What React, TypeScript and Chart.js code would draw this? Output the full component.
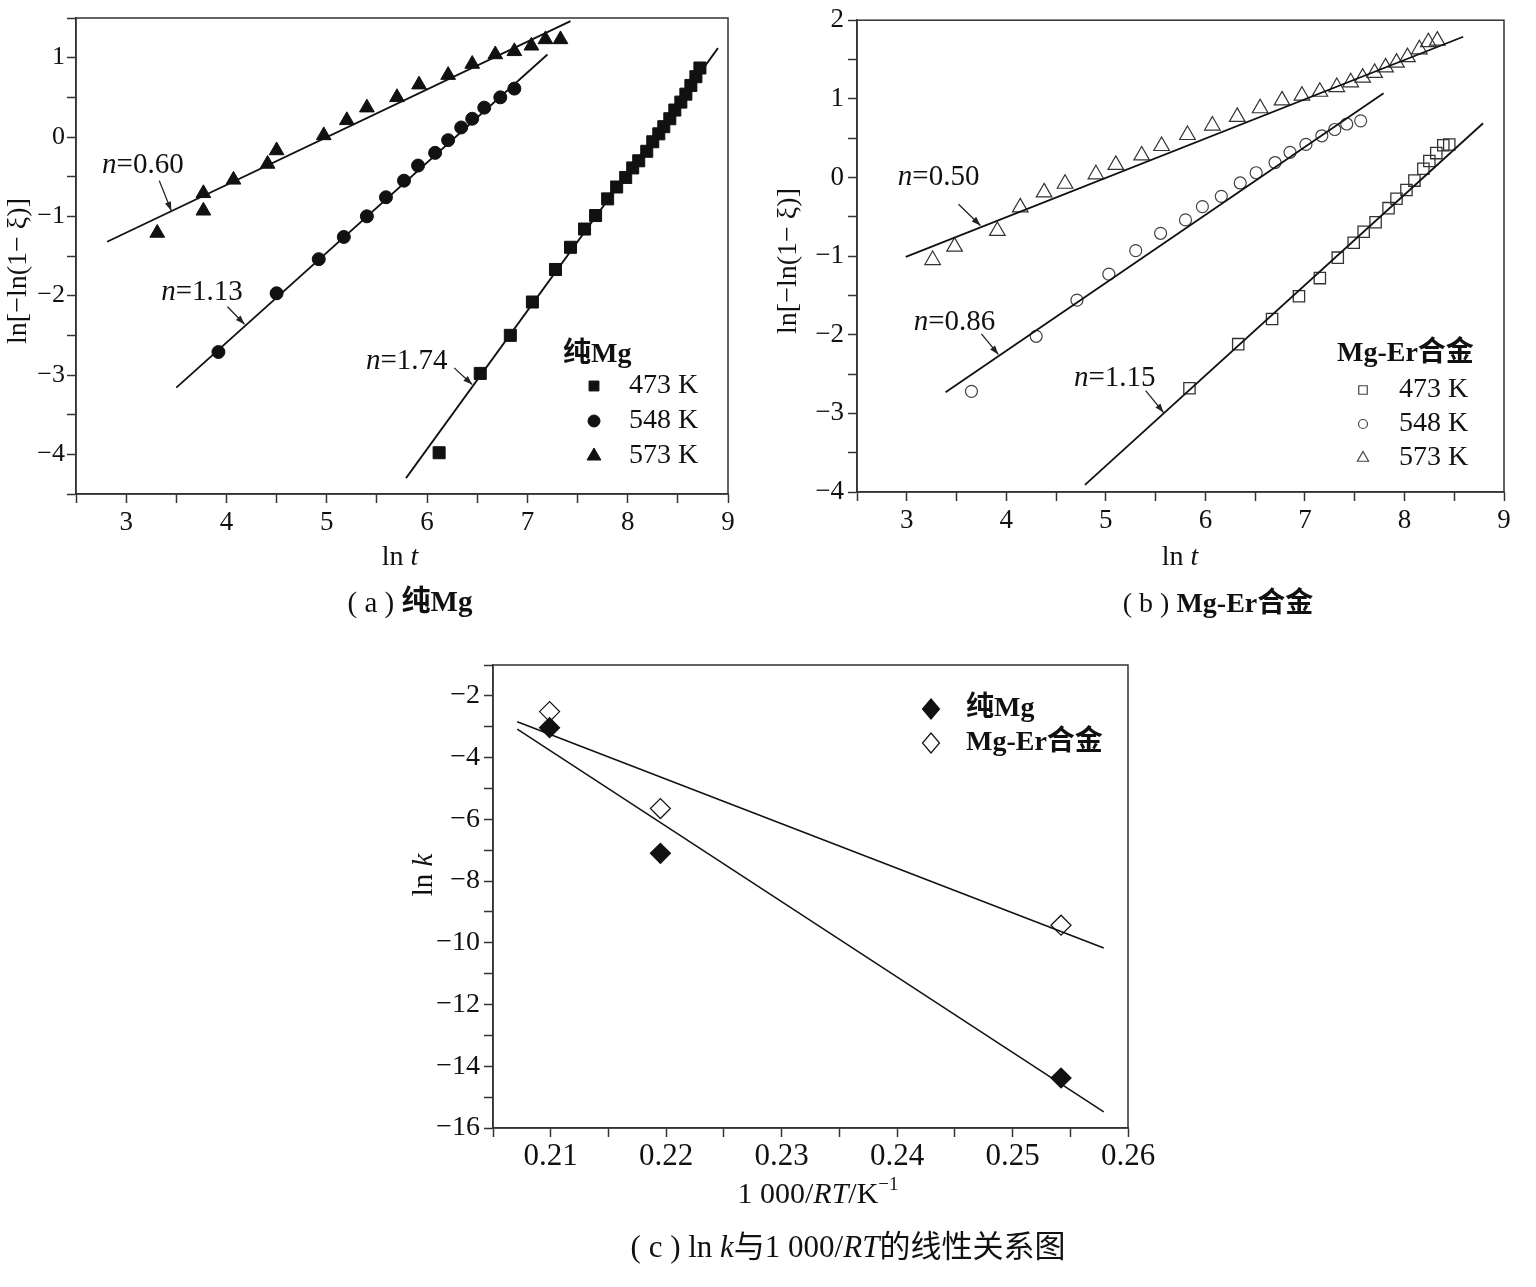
import React, { useEffect, useRef } from 'react';
import { Chart, registerables } from 'chart.js';

Chart.register(...registerables);

const SERIF = '"Liberation Serif", "Times New Roman", "Noto Sans CJK SC", serif';
const INK = '#111';

// ---------- Panel (a): pure Mg ----------
const A_473_X = [6.12, 6.53, 6.83, 7.05, 7.28, 7.43, 7.57, 7.68, 7.8, 7.89, 7.98, 8.05, 8.11, 8.19, 8.25, 8.31, 8.36, 8.42, 8.47, 8.53, 8.58, 8.63, 8.68, 8.72];
const A_473_Y = [-3.98, -2.98, -2.5, -2.08, -1.67, -1.39, -1.16, -0.99, -0.78, -0.63, -0.51, -0.39, -0.3, -0.18, -0.06, 0.04, 0.13, 0.23, 0.34, 0.44, 0.54, 0.65, 0.76, 0.87];
const A_548_X = [3.92, 4.5, 4.92, 5.17, 5.4, 5.59, 5.77, 5.91, 6.08, 6.21, 6.34, 6.45, 6.57, 6.73, 6.87];
const A_548_Y = [-2.71, -1.97, -1.54, -1.26, -1.0, -0.76, -0.55, -0.36, -0.2, -0.04, 0.12, 0.23, 0.37, 0.5, 0.61];
const A_573_X = [3.31, 3.77, 3.77, 4.07, 4.41, 4.5, 4.97, 5.2, 5.4, 5.7, 5.92, 6.21, 6.45, 6.68, 6.87, 7.04, 7.18, 7.33];
const A_573_Y = [-1.21, -0.93, -0.71, -0.54, -0.34, -0.17, 0.02, 0.21, 0.37, 0.5, 0.66, 0.78, 0.92, 1.04, 1.08, 1.15, 1.23, 1.23];
const A_FIT_473_X = [5.79, 8.9];
const A_FIT_473_Y = [-4.3, 1.12];
const A_FIT_548_X = [3.5, 7.2];
const A_FIT_548_Y = [-3.16, 1.04];
const A_FIT_573_X = [2.81, 7.43];
const A_FIT_573_Y = [-1.32, 1.46];
const A_N = ['0.60', '1.13', '1.74'];

// ---------- Panel (b): Mg-Er alloy ----------
const B_473_X = [5.84, 6.33, 6.67, 6.94, 7.15, 7.33, 7.49, 7.59, 7.71, 7.84, 7.92, 8.02, 8.1, 8.19, 8.25, 8.32, 8.39, 8.45];
const B_473_Y = [-2.68, -2.12, -1.8, -1.51, -1.28, -1.02, -0.83, -0.69, -0.57, -0.39, -0.27, -0.16, -0.04, 0.11, 0.21, 0.31, 0.41, 0.42];
const B_548_X = [3.65, 4.3, 4.71, 5.03, 5.3, 5.55, 5.8, 5.97, 6.16, 6.35, 6.51, 6.7, 6.85, 7.01, 7.17, 7.3, 7.42, 7.56];
const B_548_Y = [-2.72, -2.02, -1.56, -1.23, -0.93, -0.71, -0.54, -0.37, -0.24, -0.07, 0.06, 0.19, 0.32, 0.42, 0.53, 0.61, 0.68, 0.72];
const B_573_X = [3.26, 3.48, 3.91, 4.14, 4.38, 4.59, 4.9, 5.1, 5.36, 5.56, 5.82, 6.07, 6.32, 6.55, 6.77, 6.97, 7.15, 7.32, 7.46, 7.58, 7.7, 7.81, 7.92, 8.03, 8.15, 8.24, 8.33];
const B_573_Y = [-1.05, -0.88, -0.68, -0.38, -0.19, -0.08, 0.04, 0.16, 0.28, 0.4, 0.54, 0.66, 0.77, 0.88, 0.98, 1.04, 1.09, 1.15, 1.21, 1.27, 1.33, 1.4, 1.46, 1.53, 1.63, 1.72, 1.74];
const B_FIT_473_X = [4.79, 8.79];
const B_FIT_473_Y = [-3.91, 0.69];
const B_FIT_548_X = [3.39, 7.79];
const B_FIT_548_Y = [-2.73, 1.07];
const B_FIT_573_X = [2.99, 8.59];
const B_FIT_573_Y = [-1.01, 1.79];
const B_N = ['0.50', '0.86', '1.15'];

// ---------- Panel (c): ln k vs 1000/RT ----------
const C_X = [0.2099, 0.2195, 0.2542];
const C_MG_Y = [-3.03, -7.1, -14.38];
const C_MGER_Y = [-2.51, -5.65, -9.43];
const C_FIT_X = [0.2071, 0.2579];
const C_FIT_MG_Y = [-3.08, -15.48];
const C_FIT_MGER_Y = [-2.84, -10.17];

const TEMPS = ['473 K', '548 K', '573 K'];

const pts = (xs: number[], ys: number[]) => xs.map((x, i) => ({ x, y: ys[i] }));
const minus = (s: string) => s.replace('-', '\u2212');
const fmtInt = (v: number) => {
  const r = Math.round(v);
  return Math.abs(v - r) < 1e-9 ? minus(String(r)) : '';
};
const fmtEven = (v: number) => {
  const r = Math.round(v);
  return Math.abs(v - r) < 1e-9 && r % 2 === 0 ? minus(String(r)) : '';
};
const fmt2 = (v: number) => {
  const r = Math.round(v * 100);
  return Math.abs(v * 100 - r) < 1e-6 ? (r / 100).toFixed(2) : '';
};

type Part = { t: string; i?: boolean; b?: boolean; sup?: boolean };

function drawRich(ctx: CanvasRenderingContext2D, parts: Part[], x: number, y: number, size: number, align: 'left' | 'center' | 'right' = 'center', rot = false) {
  ctx.save();
  ctx.translate(x, y);
  if (rot) ctx.rotate(-Math.PI / 2);
  ctx.textBaseline = 'middle';
  ctx.textAlign = 'left';
  ctx.fillStyle = INK;
  const fontOf = (p: Part) => `${p.i ? 'italic ' : ''}${p.b ? 'bold ' : ''}${p.sup ? Math.round(size * 0.62) : size}px ${SERIF}`;
  let total = 0;
  const widths = parts.map((p) => {
    ctx.font = fontOf(p);
    const w = ctx.measureText(p.t).width;
    total += w;
    return w;
  });
  let cx = align === 'center' ? -total / 2 : align === 'right' ? -total : 0;
  parts.forEach((p, k) => {
    ctx.font = fontOf(p);
    ctx.fillText(p.t, cx, p.sup ? -size * 0.32 : 0);
    cx += widths[k];
  });
  ctx.restore();
}

function drawMarker(ctx: CanvasRenderingContext2D, style: string, x: number, y: number, r: number, fill: boolean, lw: number, color: string) {
  ctx.save();
  ctx.beginPath();
  if (style === 'rect') {
    const s = r * Math.SQRT1_2;
    ctx.rect(x - s, y - s, 2 * s, 2 * s);
  } else if (style === 'circle') {
    ctx.arc(x, y, r, 0, Math.PI * 2);
  } else if (style === 'triangle') {
    const a = (Math.PI * 2) / 3;
    ctx.moveTo(x, y - r);
    ctx.lineTo(x + Math.sin(a) * r, y - Math.cos(a) * r);
    ctx.lineTo(x - Math.sin(a) * r, y - Math.cos(a) * r);
    ctx.closePath();
  } else {
    ctx.moveTo(x, y - r);
    ctx.lineTo(x + r * 0.85, y);
    ctx.lineTo(x, y + r);
    ctx.lineTo(x - r * 0.85, y);
    ctx.closePath();
  }
  ctx.lineWidth = lw;
  ctx.strokeStyle = color;
  ctx.fillStyle = fill ? color : '#fff';
  ctx.fill();
  ctx.stroke();
  ctx.restore();
}

type Anno = { n: string; tx: number; ty: number; ax0: number; ay0: number; ax1: number; ay1: number };
type TextItem = { parts: Part[]; x: number; y: number; size: number; align?: 'left' | 'center' | 'right'; rot?: boolean };
type LegendItem = { style: string; fill: boolean; lw: number; r: number; color: string; label: string; y: number };
type Extras = {
  left: number;
  top: number;
  annos: Anno[];
  texts: TextItem[];
  legendTitle?: TextItem;
  legendMarkerX: number;
  legendTextX: number;
  legendSize: number;
  legendBold: boolean;
  legend: LegendItem[];
};

function extrasPlugin(ex: Extras) {
  return {
    id: 'extras',
    afterDraw(chart: any) {
      const { ctx, chartArea: ca, scales } = chart;
      ctx.save();
      ctx.strokeStyle = '#333';
      ctx.lineWidth = 1.5;
      ctx.strokeRect(ca.left, ca.top, ca.right - ca.left, ca.bottom - ca.top);
      const X = (v: number) => scales.x.getPixelForValue(v);
      const Y = (v: number) => scales.y.getPixelForValue(v);
      ex.annos.forEach((a) => {
        drawRich(ctx, [{ t: 'n', i: true }, { t: '=' + a.n }], X(a.tx), Y(a.ty), 29, 'left');
        const x0 = X(a.ax0), y0 = Y(a.ay0), x1 = X(a.ax1), y1 = Y(a.ay1);
        ctx.strokeStyle = '#222';
        ctx.lineWidth = 1.3;
        ctx.beginPath();
        ctx.moveTo(x0, y0);
        ctx.lineTo(x1, y1);
        ctx.stroke();
        const ang = Math.atan2(y1 - y0, x1 - x0);
        const L = 9, W = 3.2;
        ctx.fillStyle = '#222';
        ctx.beginPath();
        ctx.moveTo(x1, y1);
        ctx.lineTo(x1 - L * Math.cos(ang) + W * Math.sin(ang), y1 - L * Math.sin(ang) - W * Math.cos(ang));
        ctx.lineTo(x1 - L * Math.cos(ang) - W * Math.sin(ang), y1 - L * Math.sin(ang) + W * Math.cos(ang));
        ctx.closePath();
        ctx.fill();
      });
      const ox = ex.left, oy = ex.top;
      ex.texts.forEach((t) => drawRich(ctx, t.parts, t.x - ox, t.y - oy, t.size, t.align || 'center', !!t.rot));
      if (ex.legendTitle) {
        const t = ex.legendTitle;
        drawRich(ctx, t.parts, t.x - ox, t.y - oy, t.size, t.align || 'left');
      }
      ex.legend.forEach((l) => {
        drawMarker(ctx, l.style, ex.legendMarkerX - ox, l.y - oy, l.r, l.fill, l.lw, l.color);
        drawRich(ctx, [{ t: l.label, b: ex.legendBold }], ex.legendTextX - ox, l.y - oy, ex.legendSize, 'left');
      });
      ctx.restore();
    },
  };
}

function axis(min: number, max: number, step: number, label: (v: number) => string, fixed: number, horiz: boolean, size: number, pad: number) {
  return {
    type: 'linear',
    min,
    max,
    ticks: {
      stepSize: step,
      autoSkip: false,
      maxRotation: 0,
      minRotation: 0,
      padding: pad,
      color: INK,
      font: { family: SERIF, size },
      callback: (v: any) => label(Number(v)),
    },
    grid: { drawOnChartArea: false, drawTicks: true, tickLength: 9, color: '#333', tickWidth: 1.5 },
    border: { display: true, color: '#333', width: 1.5 },
    afterFit: (s: any) => {
      if (horiz) s.height = fixed;
      else s.width = fixed;
    },
  };
}

const scat = (data: any[], style: string, r: number, fill: boolean, lw: number, color: string) => ({
  type: 'scatter',
  data,
  pointStyle: style,
  pointRadius: r,
  pointHoverRadius: r,
  backgroundColor: fill ? color : 'rgba(255,255,255,0)',
  borderColor: color,
  borderWidth: lw,
  showLine: false,
});
const fit = (data: any[], lw: number) => ({
  type: 'scatter',
  data,
  showLine: true,
  borderColor: INK,
  borderWidth: lw,
  pointRadius: 0,
  pointHoverRadius: 0,
  fill: false,
});

type Spec = { left: number; top: number; width: number; height: number; config: any };

function makeA(): Spec {
  const left = 0, top = 0, width = 770, height = 640;
  const ex: Extras = {
    left,
    top,
    annos: [
      { n: A_N[0], tx: 2.76, ty: -0.36, ax0: 3.33, ay0: -0.55, ax1: 3.45, ay1: -0.93 },
      { n: A_N[1], tx: 3.35, ty: -1.96, ax0: 4.01, ay0: -2.14, ax1: 4.18, ay1: -2.36 },
      { n: A_N[2], tx: 5.39, ty: -2.83, ax0: 6.27, ay0: -2.91, ax1: 6.45, ay1: -3.12 },
    ],
    texts: [
      { parts: [{ t: 'ln[\u2212ln(1\u2212 \u03be)]' }], x: 19, y: 271, size: 28, rot: true },
      { parts: [{ t: 'ln ' }, { t: 't', i: true }], x: 400, y: 558, size: 28 },
      { parts: [{ t: '( a ) ' }, { t: '纯Mg', b: true }], x: 410, y: 604, size: 29 },
    ],
    legendTitle: { parts: [{ t: '纯Mg', b: true }], x: 563, y: 355, size: 28, align: 'left' },
    legendMarkerX: 594,
    legendTextX: 629,
    legendSize: 28,
    legendBold: false,
    legend: [
      { style: 'rect', fill: true, lw: 1, r: 7, color: INK, label: TEMPS[0], y: 386 },
      { style: 'circle', fill: true, lw: 1, r: 6, color: INK, label: TEMPS[1], y: 421 },
      { style: 'triangle', fill: true, lw: 1, r: 8, color: INK, label: TEMPS[2], y: 456 },
    ],
  };
  return {
    left, top, width, height,
    config: {
      type: 'scatter',
      data: {
        datasets: [
          fit(pts(A_FIT_473_X, A_FIT_473_Y), 1.8),
          fit(pts(A_FIT_548_X, A_FIT_548_Y), 1.8),
          fit(pts(A_FIT_573_X, A_FIT_573_Y), 1.8),
          scat(pts(A_473_X, A_473_Y), 'rect', 8.5, true, 1, INK),
          scat(pts(A_548_X, A_548_Y), 'circle', 6.5, true, 1, INK),
          scat(pts(A_573_X, A_573_Y), 'triangle', 8.5, true, 1, INK),
        ],
      },
      options: {
        responsive: false,
        animation: false,
        events: [],
        layout: { padding: { left: 0, top: 18, right: width - 728, bottom: 0 } },
        plugins: { legend: { display: false }, tooltip: { enabled: false } },
        scales: {
          x: axis(2.5, 9, 0.5, fmtInt, height - 494, true, 27, 4),
          y: axis(-4.5, 1.5, 0.5, fmtInt, 76, false, 26, 2),
        },
      },
      plugins: [extrasPlugin(ex)],
    },
  };
}

function makeB(): Spec {
  const left = 770, top = 0, width = 766, height = 640;
  const ex: Extras = {
    left,
    top,
    annos: [
      { n: B_N[0], tx: 2.91, ty: 0.0, ax0: 3.52, ay0: -0.34, ax1: 3.74, ay1: -0.61 },
      { n: B_N[1], tx: 3.07, ty: -1.84, ax0: 3.75, ay0: -1.99, ax1: 3.92, ay1: -2.25 },
      { n: B_N[2], tx: 4.68, ty: -2.56, ax0: 5.4, ay0: -2.71, ax1: 5.58, ay1: -2.99 },
    ],
    texts: [
      { parts: [{ t: 'ln[\u2212ln(1\u2212 \u03be)]' }], x: 789, y: 261, size: 28, rot: true },
      { parts: [{ t: 'ln ' }, { t: 't', i: true }], x: 1180, y: 558, size: 28 },
      { parts: [{ t: '( b ) ' }, { t: 'Mg-Er合金', b: true }], x: 1218, y: 605, size: 28 },
    ],
    legendTitle: { parts: [{ t: 'Mg-Er合金', b: true }], x: 1337, y: 354, size: 28, align: 'left' },
    legendMarkerX: 1363,
    legendTextX: 1399,
    legendSize: 28,
    legendBold: false,
    legend: [
      { style: 'rect', fill: false, lw: 1.2, r: 6, color: '#444', label: TEMPS[0], y: 390 },
      { style: 'circle', fill: false, lw: 1.2, r: 4.5, color: '#444', label: TEMPS[1], y: 424 },
      { style: 'triangle', fill: false, lw: 1.2, r: 6.5, color: '#444', label: TEMPS[2], y: 458 },
    ],
  };
  return {
    left, top, width, height,
    config: {
      type: 'scatter',
      data: {
        datasets: [
          fit(pts(B_FIT_473_X, B_FIT_473_Y), 1.8),
          fit(pts(B_FIT_548_X, B_FIT_548_Y), 1.8),
          fit(pts(B_FIT_573_X, B_FIT_573_Y), 1.8),
          scat(pts(B_473_X, B_473_Y), 'rect', 8, false, 1.3, '#333'),
          scat(pts(B_548_X, B_548_Y), 'circle', 6, false, 1.2, '#444'),
          scat(pts(B_573_X, B_573_Y), 'triangle', 9, false, 1.2, '#333'),
        ],
      },
      options: {
        responsive: false,
        animation: false,
        events: [],
        layout: { padding: { left: 0, top: 20, right: width - 734, bottom: 0 } },
        plugins: { legend: { display: false }, tooltip: { enabled: false } },
        scales: {
          x: axis(2.5, 9, 0.5, fmtInt, height - 492, true, 27, 4),
          y: axis(-4, 2, 0.5, fmtInt, 87, false, 27, 4),
        },
      },
      plugins: [extrasPlugin(ex)],
    },
  };
}

function makeC(): Spec {
  const left = 400, top = 640, width = 800, height = 647;
  const ex: Extras = {
    left,
    top,
    annos: [],
    texts: [
      { parts: [{ t: 'ln ' }, { t: 'k', i: true }], x: 424, y: 875, size: 29, rot: true },
      { parts: [{ t: '1 000/' }, { t: 'RT', i: true }, { t: '/K' }, { t: '\u22121', sup: true }], x: 818, y: 1195, size: 30 },
      {
        parts: [{ t: '( c ) ln ' }, { t: 'k', i: true }, { t: '与1 000/' }, { t: 'RT', i: true }, { t: '的线性关系图' }],
        x: 848, y: 1249, size: 31,
      },
    ],
    legendMarkerX: 931,
    legendTextX: 966,
    legendSize: 28,
    legendBold: true,
    legend: [
      { style: 'diamond', fill: true, lw: 1.2, r: 10, color: INK, label: '纯Mg', y: 709 },
      { style: 'diamond', fill: false, lw: 1.2, r: 10, color: INK, label: 'Mg-Er合金', y: 743 },
    ],
  };
  return {
    left, top, width, height,
    config: {
      type: 'scatter',
      data: {
        datasets: [
          fit(pts(C_FIT_X, C_FIT_MG_Y), 1.5),
          fit(pts(C_FIT_X, C_FIT_MGER_Y), 1.5),
          scat(pts(C_X, C_MG_Y), 'rectRot', 10, true, 1.2, INK),
          {
            ...scat(pts(C_X, C_MGER_Y), 'rectRot', 10, false, 1.2, INK),
            backgroundColor: '#fff',
          },
        ],
      },
      options: {
        responsive: false,
        animation: false,
        events: [],
        layout: { padding: { left: 0, top: 25, right: width - 728, bottom: 0 } },
        plugins: { legend: { display: false }, tooltip: { enabled: false } },
        scales: {
          x: axis(0.205, 0.26, 0.005, fmt2, height - 488, true, 31, 1),
          y: axis(-16, -1, 1, fmtEven, 93, false, 28, 4),
        },
      },
      plugins: [extrasPlugin(ex)],
    },
  };
}

function ChartBox({ spec }: { spec: Spec }) {
  const ref = useRef<HTMLCanvasElement>(null);
  useEffect(() => {
    const chart = new Chart(ref.current as HTMLCanvasElement, spec.config);
    return () => chart.destroy();
  }, []);
  return (
    <canvas
      ref={ref}
      width={spec.width}
      height={spec.height}
      style={{ position: 'absolute', left: spec.left, top: spec.top, width: spec.width, height: spec.height }}
    />
  );
}

export default function App() {
  const specs = [makeA(), makeB(), makeC()];
  return (
    <div style={{ position: 'absolute', left: 0, top: 0, width: 1536, height: 1287, background: '#fff', overflow: 'hidden' }}>
      {specs.map((s, i) => (
        <ChartBox key={i} spec={s} />
      ))}
    </div>
  );
}
